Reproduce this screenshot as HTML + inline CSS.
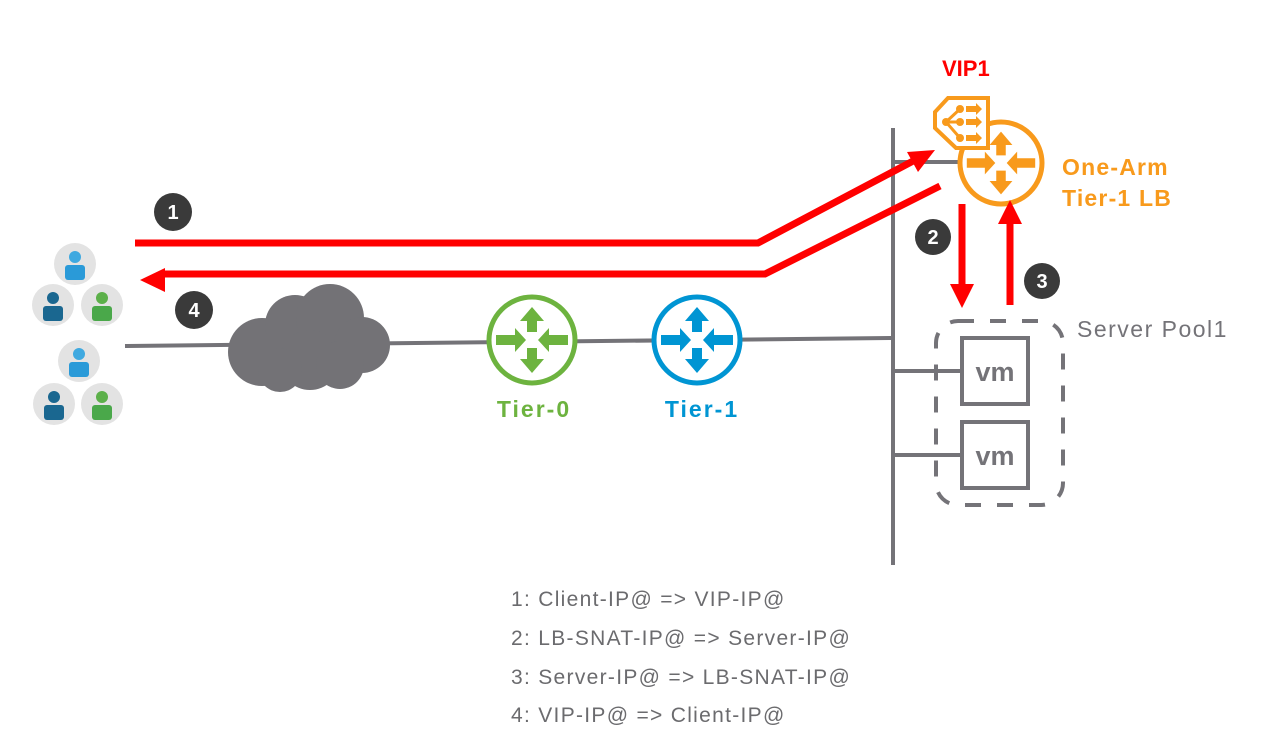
<!DOCTYPE html><html><head><style>body{margin:0;background:#fff}svg{display:block}text{font-family:"Liberation Sans",sans-serif}</style></head><body>
<svg width="1265" height="734" viewBox="0 0 1265 734">
<defs>
<g id="arr4"><path d="M0,-33 L-12,-19 -5,-19 -5,-8 5,-8 5,-19 12,-19Z"/></g>
<g id="ri"><use href="#arr4"/><use href="#arr4" transform="rotate(180)"/><path d="M-36,-5 L-17,-5 -17,-12 -6,0 -17,12 -17,5 -36,5Z"/><path d="M36,-5 L17,-5 17,-12 6,0 17,12 17,5 36,5Z"/></g>
</defs>
<path d="M125,346 L893,338" stroke="#747378" stroke-width="4" fill="none"/>
<path d="M893,128 V565 M893,162 H958 M893,371 H961 M893,455 H961" stroke="#747378" stroke-width="4" fill="none"/>
<g fill="#737276">
<circle cx="262" cy="352" r="34"/><circle cx="295" cy="325" r="30"/><circle cx="330" cy="318" r="34"/><circle cx="362" cy="345" r="28"/><circle cx="310" cy="360" r="30"/><circle cx="280" cy="370" r="22"/><circle cx="340" cy="365" r="24"/>
</g>
<circle cx="532" cy="340" r="43" fill="#fff" stroke="#6db33f" stroke-width="5"/>
<g fill="#6db33f" transform="translate(532,340)"><use href="#ri"/></g>
<circle cx="697" cy="340" r="43" fill="#fff" stroke="#0095d3" stroke-width="5"/>
<g fill="#0095d3" transform="translate(697,340)"><use href="#ri"/></g>
<text x="534" y="417" text-anchor="middle" font-size="23" font-weight="bold" letter-spacing="2" fill="#6db33f">Tier-0</text>
<text x="702" y="417" text-anchor="middle" font-size="23" font-weight="bold" letter-spacing="2" fill="#0095d3">Tier-1</text>
<circle cx="1001" cy="163" r="41" fill="#fff" stroke="#f89a1c" stroke-width="5"/>
<g fill="#f89a1c" transform="translate(1001,163) scale(0.95)"><use href="#ri"/></g>
<path d="M948,98 H988 V148 H956 L935,128 V112Z" fill="#fff" stroke="#f89a1c" stroke-width="4"/>
<g fill="#f89a1c"><circle cx="960" cy="109" r="4"/><circle cx="960" cy="122" r="4"/><circle cx="960" cy="138" r="4"/><circle cx="946" cy="122" r="4"/>
<path d="M966,106h10v-3l6,6-6,6v-3h-10zM966,119h10v-3l6,6-6,6v-3h-10zM966,135h10v-3l6,6-6,6v-3h-10z"/></g>
<path d="M946,122 L960,109 M946,122 H960 M946,122 L960,138" stroke="#f89a1c" stroke-width="3"/>
<text x="942" y="76" font-size="22" font-weight="bold" fill="#ff0000">VIP1</text>
<text x="1062" y="175" font-size="23" font-weight="bold" letter-spacing="1.2" fill="#f89a1c">One-Arm</text>
<text x="1062" y="206" font-size="23" font-weight="bold" letter-spacing="1.2" fill="#f89a1c">Tier-1 LB</text>
<rect x="936" y="321" width="127" height="184" rx="22" fill="none" stroke="#747378" stroke-width="4" stroke-dasharray="16,16"/>
<rect x="962" y="338" width="66" height="66" fill="#fff" stroke="#747378" stroke-width="4"/>
<rect x="962" y="422" width="66" height="66" fill="#fff" stroke="#747378" stroke-width="4"/>
<text x="995" y="381" text-anchor="middle" font-size="27" font-weight="bold" fill="#747378">vm</text>
<text x="995" y="465" text-anchor="middle" font-size="27" font-weight="bold" fill="#747378">vm</text>
<text x="1077" y="337" font-size="23" letter-spacing="1.5" fill="#747378">Server Pool1</text>
<g stroke="#ff0000" stroke-width="7" fill="none">
<path d="M135,243 H758 L915,160"/>
<path d="M940,186 L765,274 H160"/>
<path d="M962,204 V290"/>
<path d="M1010,305 V220"/>
</g>
<g fill="#ff0000">
<path d="M935,150 L907,152 918,172Z"/>
<path d="M140,280 L165,268 165,292Z"/>
<path d="M962,308 L950,284 974,284Z"/>
<path d="M1010,200 L998,224 1022,224Z"/>
</g>
<g fill="#3a3a3a"><circle cx="173" cy="212" r="19"/><circle cx="933" cy="237" r="18"/><circle cx="1042" cy="281" r="18"/><circle cx="194" cy="310" r="19"/></g>
<g fill="#fff" font-size="20" font-weight="bold" text-anchor="middle"><text x="173" y="219">1</text><text x="933" y="244">2</text><text x="1042" y="288">3</text><text x="194" y="317">4</text></g>
<g>
<g transform="translate(75,264)"><circle r="21" fill="#e3e3e3"/><circle cy="-7" r="6" fill="#3fa9e0"/><rect x="-10" y="1" width="20" height="15" rx="3" fill="#2a9ad8"/></g>
<g transform="translate(53,305)"><circle r="21" fill="#e3e3e3"/><circle cy="-7" r="6" fill="#1a6790"/><rect x="-10" y="1" width="20" height="15" rx="3" fill="#1a6790"/></g>
<g transform="translate(102,305)"><circle r="21" fill="#e3e3e3"/><circle cy="-7" r="6" fill="#5cb04a"/><rect x="-10" y="1" width="20" height="15" rx="3" fill="#4aa84a"/></g>
<g transform="translate(79,361)"><circle r="21" fill="#e3e3e3"/><circle cy="-7" r="6" fill="#3fa9e0"/><rect x="-10" y="1" width="20" height="15" rx="3" fill="#2a9ad8"/></g>
<g transform="translate(54,404)"><circle r="21" fill="#e3e3e3"/><circle cy="-7" r="6" fill="#1a6790"/><rect x="-10" y="1" width="20" height="15" rx="3" fill="#1a6790"/></g>
<g transform="translate(102,404)"><circle r="21" fill="#e3e3e3"/><circle cy="-7" r="6" fill="#5cb04a"/><rect x="-10" y="1" width="20" height="15" rx="3" fill="#4aa84a"/></g>
</g>
<g font-size="21" letter-spacing="1.3" fill="#6b6b6e">
<text x="511" y="606">1: Client-IP@ =&gt; VIP-IP@</text>
<text x="511" y="645">2: LB-SNAT-IP@ =&gt; Server-IP@</text>
<text x="511" y="684">3: Server-IP@ =&gt; LB-SNAT-IP@</text>
<text x="511" y="722">4: VIP-IP@ =&gt; Client-IP@</text>
</g>
</svg></body></html>
